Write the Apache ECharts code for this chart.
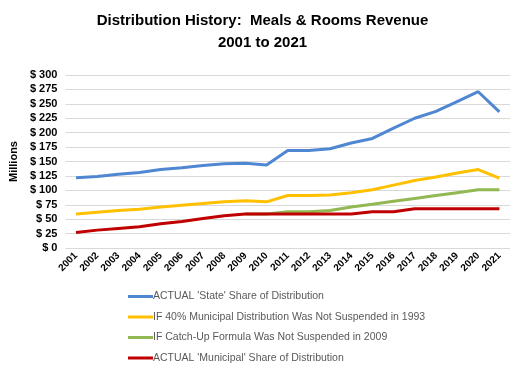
<!DOCTYPE html>
<html><head><meta charset="utf-8">
<script src="https://cdn.jsdelivr.net/npm/echarts@6/dist/echarts.min.js"></script>
<style>html,body{margin:0;padding:0;background:#fff}#c{width:525px;height:369px}</style>
</head><body><div id="c"></div>
<script>
const years = ['2001','2002','2003','2004','2005','2006','2007','2008','2009','2010','2011','2012','2013','2014','2015','2016','2017','2018','2019','2020','2021'];
const stateShare = [122,124,128,131,136,139,143,146,147,144,169,169,172,182,190,208,225,237,254,271,236];
const if40 = [59,62,65,67,71,74,77,80,82,80,91,91,92,96,101,109,117,123,130,136,121];
const ifCatchUp = [null,null,null,null,null,null,null,null,59,59,63,63,65,71,76,81,86,91,96,101,101];
const municipal = [27,31,34,37,42,46,51,56,59,59,59,59,59,59,63,63,68,68,68,68,68];
const yTicks = [0,25,50,75,100,125,150,175,200,225,250,275,300];
const names = ["ACTUAL 'State' Share of Distribution","IF 40% Municipal Distribution Was Not Suspended in 1993","IF Catch-Up Formula Was Not Suspended in 2009","ACTUAL 'Municipal' Share of Distribution"];
const colors = ['#4F87D2','#FFC000','#92B854','#C00000'];
const font = 'Liberation Sans, Arial, sans-serif';
const chart = echarts.init(document.getElementById('c'));
const mk = (name, data, color, z) => ({name, type:'line', data, symbol:'none', smooth:false, z,
  lineStyle:{color, width:3}, itemStyle:{color}});
chart.setOption({
  animation:false,
  title:{text:'Distribution History:  Meals & Rooms Revenue\n2001 to 2021', left:'center', top:5,
    textStyle:{fontFamily:font, fontWeight:'bold', fontSize:15, color:'#000', lineHeight:22}},
  grid:{left:56, right:15, top:75, bottom:121},
  legend:{orient:'vertical', left:123, top:286, itemGap:9.5, itemWidth:25, itemHeight:3, icon:'rect',
    textStyle:{fontFamily:font, fontSize:10.5, color:'#595959', padding:[0,0,0,-5]}, data:names},
  xAxis:{type:'category', data:years, boundaryGap:true,
    axisLine:{show:false}, axisTick:{show:false},
    axisLabel:{rotate:45, fontFamily:font, fontWeight:'bold', fontSize:10, color:'#000', margin:6, interval:0}},
  yAxis:{type:'value', min:0, max:300, interval:25, name:'Millions', nameLocation:'middle', nameGap:41,
    nameRotate:90, nameTextStyle:{fontFamily:font, fontWeight:'bold', fontSize:11, color:'#000'},
    axisLabel:{fontFamily:font, fontWeight:'bold', fontSize:11, color:'#000', margin:8, formatter:v=>'$ '+v},
    splitLine:{lineStyle:{color:'#D9D9D9', width:1}}},
  series:[mk(names[0],stateShare,colors[0],4), mk(names[1],if40,colors[1],3), mk(names[2],ifCatchUp,colors[2],2), mk(names[3],municipal,colors[3],5)]
});
</script></body></html>
